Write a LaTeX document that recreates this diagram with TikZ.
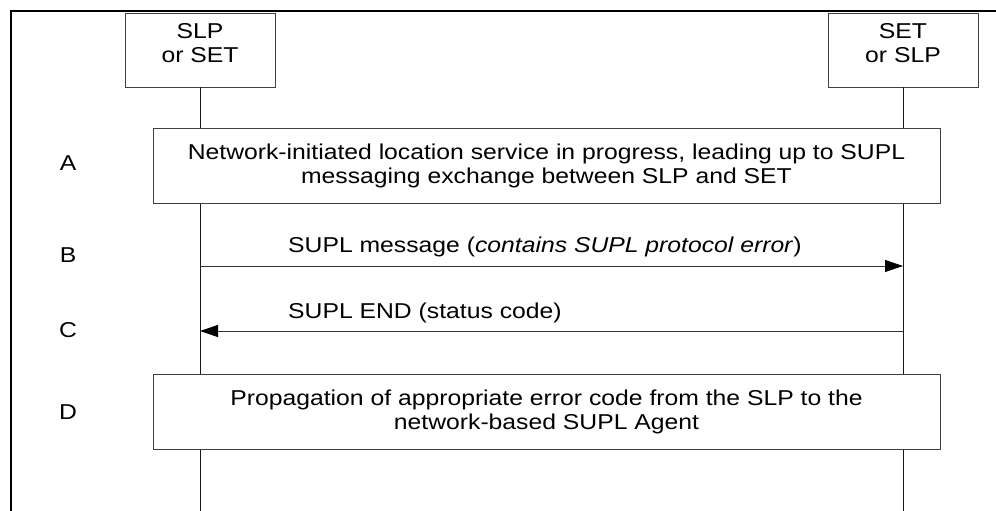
\documentclass[tikz,border=0pt]{standalone}
\usepackage{fontspec}
\setmainfont{Liberation Sans}[FakeStretch=1.15]
\usetikzlibrary{
    arrows.meta,
    positioning,
}
\tikzstyle{actor}=[draw=black!75,rectangle,fill=white,align=center,inner sep=0pt,minimum width=150pt,minimum height=74pt,text depth=14pt]
\tikzstyle{phase}=[draw=black!75,rectangle,fill=white,align=center,inner sep=0pt,minimum width=787pt,minimum height=75pt]
\tikzstyle{life}=[draw=black!90,line width=0.9pt]
\tikzstyle{msg}=[draw=black!80,line width=0.9pt,-{Triangle[length=18pt,width=12pt,color=black]}]
\tikzstyle{tag}=[anchor=center,inner sep=0pt]

\begin{document}
\begin{tikzpicture}[x=1pt,y=-1pt,font=\fontsize{21.5}{24}\selectfont]
    \useasboundingbox (0,0) rectangle (996,511);
    \draw[line width=2.5pt] (11,511) -- (11,11) -- (996,11);

    % the two parties
    \node[actor] (slp) at (200,50) {SLP\\or SET};
    \node[actor] (set) at (903,50) {SET\\or SLP};
    \coordinate (slpend) at (200,511);
    \coordinate (setend) at (903,511);
    \draw[life] (slp) -- (slpend);
    \draw[life] (set) -- (setend);

    % steps
    \node[phase] (stepa) at (546.5,165.5) {Network-initiated location service in progress, leading up to SUPL\\messaging exchange between SLP and SET};
    \node[phase] (stepd) at (546.5,412) {Propagation of appropriate error code from the SLP to the\\network-based SUPL Agent};

    \coordinate (b0) at (200,266);
    \coordinate (b1) at (903,266);
    \coordinate (c0) at (903,331);
    \coordinate (c1) at (200,331);
    \draw[msg] (b0) -- (b1);
    \draw[msg] (c0) -- (c1);
    \node[anchor=base west,inner sep=0pt] (lblb) at (288,252) {SUPL message (\textit{contains SUPL protocol error})};
    \node[anchor=base west,inner sep=0pt] (lblc) at (288,318) {SUPL END (status code)};

    \node[tag] (taga) at (68,163) {A};
    \node[tag] (tagb) at (68,255) {B};
    \node[tag] (tagc) at (68,330) {C};
    \node[tag] (tagd) at (68,412) {D};
\end{tikzpicture}
\end{document}
